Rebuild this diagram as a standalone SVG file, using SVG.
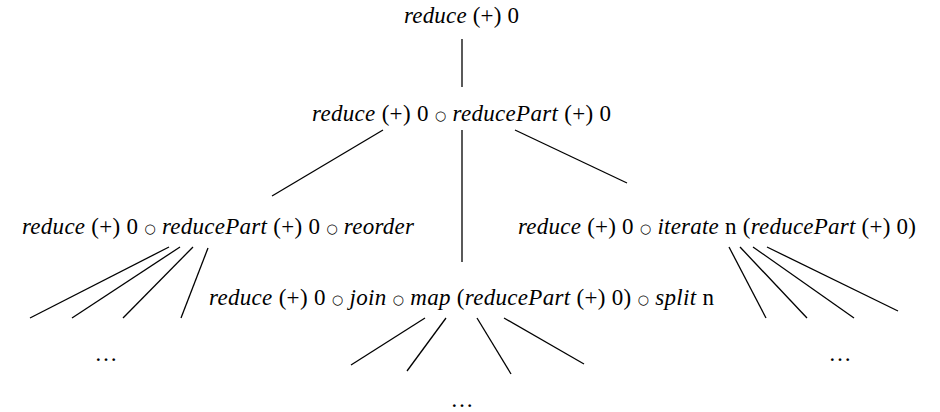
<svg xmlns="http://www.w3.org/2000/svg" width="940" height="412" viewBox="0 0 940 412">
  <style>
    .t { font-family: "Liberation Serif", "DejaVu Serif", serif; font-size: 23px; fill: #000; }
    .i { font-style: italic; }
    .o { font-family: "DejaVu Sans", sans-serif; font-size: 13px; baseline-shift: 1.5px; }
    .edge { stroke: #000; stroke-width: 1.3; fill: none; }
  </style>
  <rect width="940" height="412" fill="#fff"/>

  <g id="edges">
    <line class="edge" x1="462" y1="39" x2="462" y2="87"/>
    <line class="edge" x1="383" y1="130" x2="272" y2="196"/>
    <line class="edge" x1="462" y1="130" x2="462" y2="262"/>
    <line class="edge" x1="515" y1="130" x2="627" y2="183"/>
    <!-- left subtree -->
    <line class="edge" x1="169" y1="247" x2="30" y2="318"/>
    <line class="edge" x1="180" y1="247" x2="72" y2="318"/>
    <line class="edge" x1="193" y1="247" x2="123" y2="318"/>
    <line class="edge" x1="208" y1="248" x2="181" y2="318"/>
    <!-- right subtree -->
    <line class="edge" x1="729" y1="247" x2="766" y2="318"/>
    <line class="edge" x1="740" y1="247" x2="807" y2="318"/>
    <line class="edge" x1="753" y1="247" x2="854" y2="318"/>
    <line class="edge" x1="767" y1="247" x2="898" y2="311"/>
    <!-- middle subtree -->
    <line class="edge" x1="425" y1="318" x2="351" y2="365"/>
    <line class="edge" x1="446" y1="318" x2="407" y2="371"/>
    <line class="edge" x1="477" y1="318" x2="511" y2="374"/>
    <line class="edge" x1="504" y1="318" x2="584" y2="364"/>
  </g>

  <g id="n0">
    <text class="t" x="404" y="23" textLength="115"><tspan class="i">reduce</tspan> (+) 0</text>
  </g>
  <g id="n1">
    <text class="t" x="312" y="121" textLength="299"><tspan class="i">reduce</tspan> (+) 0 <tspan class="o">○</tspan> <tspan class="i">reducePart</tspan> (+) 0</text>
  </g>
  <g id="n2">
    <text class="t" x="22" y="234" textLength="392"><tspan class="i">reduce</tspan> (+) 0 <tspan class="o">○</tspan> <tspan class="i">reducePart</tspan> (+) 0 <tspan class="o">○</tspan> <tspan class="i">reorder</tspan></text>
  </g>
  <g id="n3">
    <text class="t" x="209" y="305" textLength="505"><tspan class="i">reduce</tspan> (+) 0 <tspan class="o">○</tspan> <tspan class="i">join</tspan> <tspan class="o">○</tspan> <tspan class="i">map</tspan> (<tspan class="i">reducePart</tspan> (+) 0) <tspan class="o">○</tspan> <tspan class="i">split</tspan> n</text>
  </g>
  <g id="n4">
    <text class="t" x="518" y="234" textLength="398"><tspan class="i">reduce</tspan> (+) 0 <tspan class="o">○</tspan> <tspan class="i">iterate</tspan> n (<tspan class="i">reducePart</tspan> (+) 0)</text>
  </g>
  <g id="d1">
    <text class="t" x="106" y="361" text-anchor="middle">…</text>
  </g>
  <g id="d2">
    <text class="t" x="462" y="407" text-anchor="middle">…</text>
  </g>
  <g id="d3">
    <text class="t" x="840" y="361" text-anchor="middle">…</text>
  </g>
</svg>
